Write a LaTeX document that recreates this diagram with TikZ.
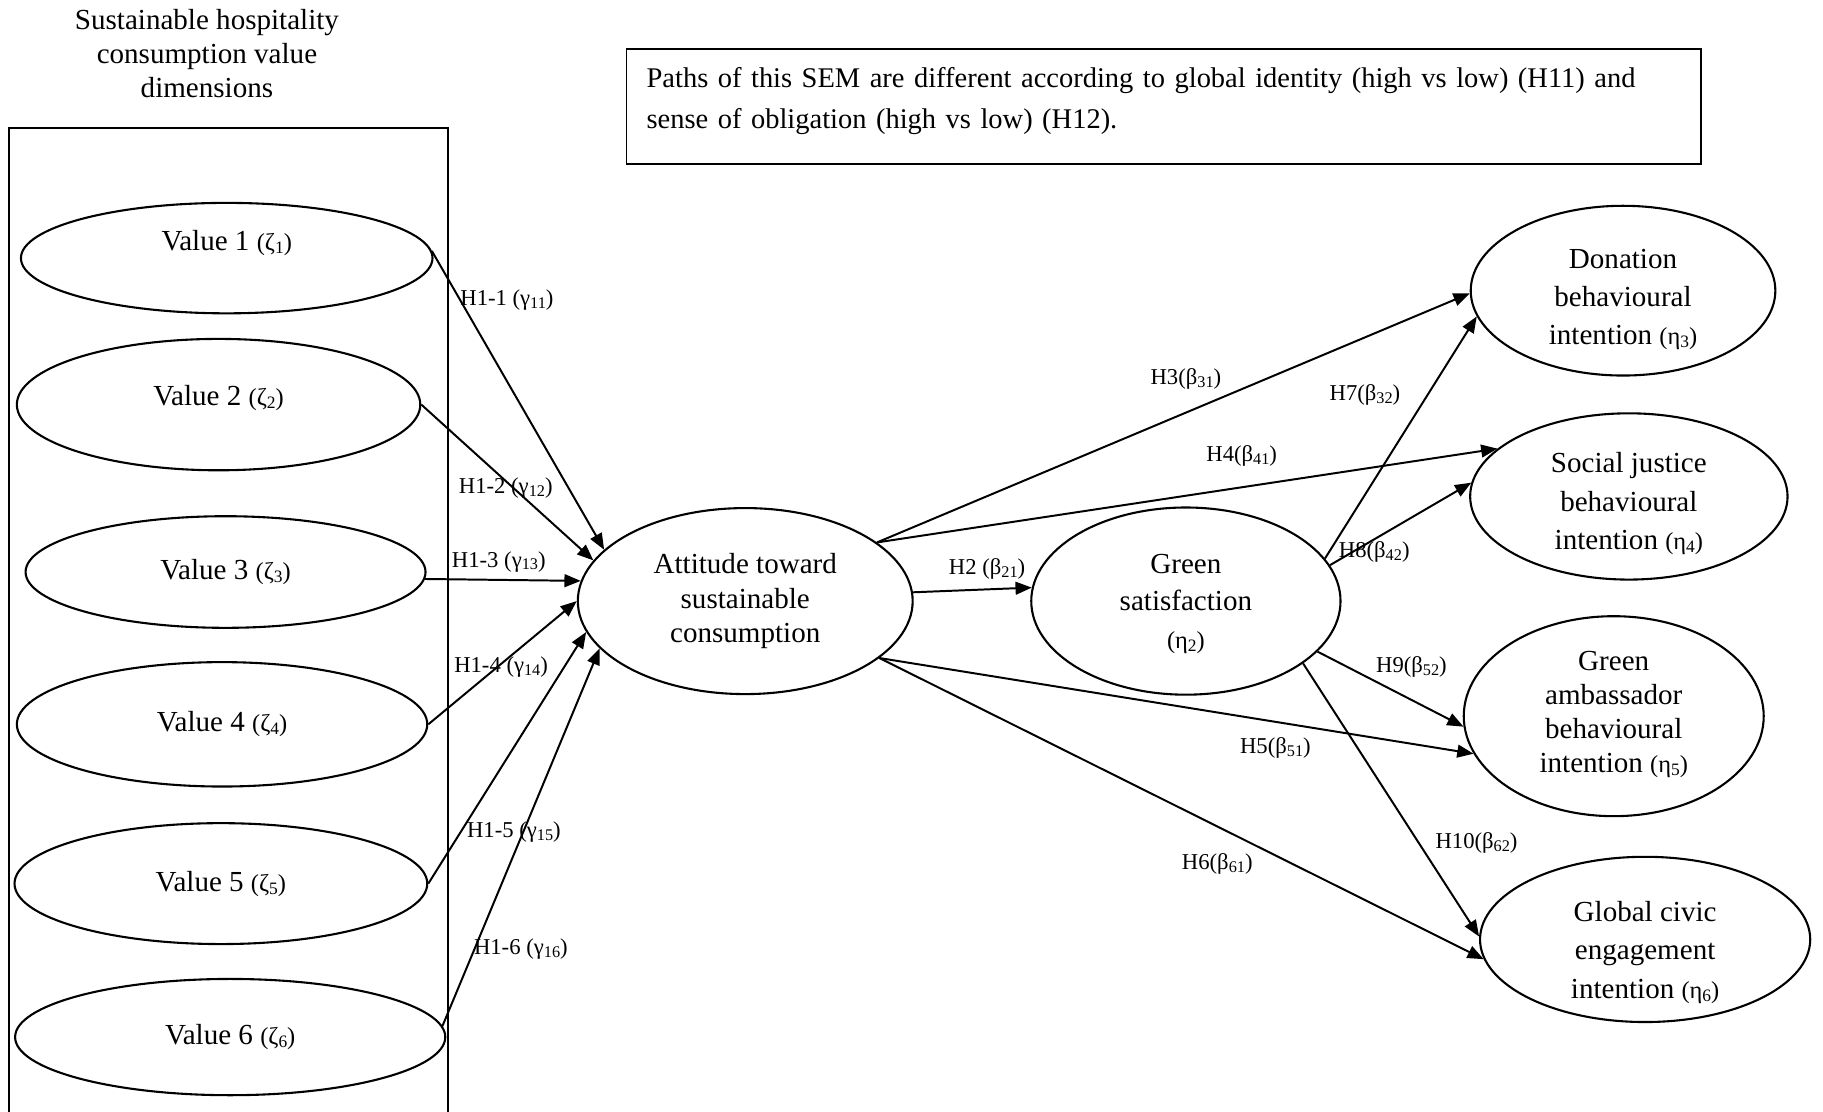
\documentclass[tikz,border=0pt]{standalone}
\usepackage{fontspec}
\setmainfont{Liberation Serif}
\usetikzlibrary{arrows.meta,shapes.geometric}
\newcommand{\lb}[1]{\raisebox{-2.5pt}{\fontsize{14}{14}\selectfont#1}}
\newcommand{\gs}[2]{{\fontsize{21}{21}\selectfont(#1\raisebox{-2.5pt}{\fontsize{15}{15}\selectfont#2})}}
\newcommand{\stk}[2]{\raisebox{#1}[\height][\depth]{\begin{tabular}{@{}c@{}}#2\end{tabular}}}
\newcommand{\shft}[2]{\raisebox{#1}[\height][\depth]{#2}}
\begin{document}
\begin{tikzpicture}[x=1pt,y=-1pt,
  every node/.style={font=\fontsize{25}{30}\selectfont},
  latent/.style={draw, ellipse, line width=1.8pt, inner sep=0pt, align=center},
  sem/.style={draw, line width=1.7pt, -{Triangle[length=14pt,width=11pt]}},
  hyp/.style={font=\fontsize{19.5}{21}\selectfont, inner sep=0pt}]
\useasboundingbox (0,0) rectangle (1568,956);

% title and value box
\node[align=center, font=\fontsize{25}{29}\selectfont] (title) at (178,46)
  {Sustainable hospitality\\consumption value\\dimensions};
\coordinate (bl) at (8,960);
\coordinate (br) at (385,960);
\draw[line width=1.8pt] (bl) -- (8,110) -- (385,110) -- (br);

% note
\node[anchor=north west, text width=890pt, align=left,
  inner xsep=17pt, inner ysep=16pt,
  font=\fontsize{24.5}{35}\selectfont] (note) at (539,42)
  {Paths of this SEM are different according to global identity (high vs low) (H11) and\\sense of obligation (high vs low) (H12).};
\draw[line width=1.4pt] (note.north west) rectangle ++(924,99);

% value ellipses
\node[latent, minimum width=354pt, minimum height=95pt] (v1) at (195,222) {\shft{13pt}{Value 1 \gs{ζ}{1}}};
\node[latent, minimum width=347pt, minimum height=113pt] (v2) at (188,348) {\shft{6pt}{Value 2 \gs{ζ}{2}}};
\node[latent, minimum width=344pt, minimum height=96pt] (v3) at (194,492) {Value 3 \gs{ζ}{3}};
\node[latent, minimum width=353pt, minimum height=107pt] (v4) at (191,623) {Value 4 \gs{ζ}{4}};
\node[latent, minimum width=355pt, minimum height=104pt] (v5) at (190,760) {Value 5 \gs{ζ}{5}};
\node[latent, minimum width=370pt, minimum height=100pt] (v6) at (198,892) {Value 6 \gs{ζ}{6}};

% constructs
\node[latent, minimum width=288pt, minimum height=160pt, font=\fontsize{25}{29.5}\selectfont] (att) at (641,517)
  {Attitude toward\\sustainable\\consumption};
\node[latent, minimum width=266pt, minimum height=161pt, font=\fontsize{25}{32.5}\selectfont] (gsat) at (1020,517)
  {\stk{-2pt}{Green\\satisfaction\\\gs{η}{2}}};
\node[latent, minimum width=262pt, minimum height=146pt, font=\fontsize{25}{33}\selectfont] (don) at (1396,250)
  {\stk{-7pt}{Donation\\behavioural\\intention \gs{η}{3}}};
\node[latent, minimum width=273pt, minimum height=143pt, font=\fontsize{25}{33}\selectfont] (soc) at (1401,427)
  {\stk{-6pt}{Social justice\\behavioural\\intention \gs{η}{4}}};
\node[latent, minimum width=258pt, minimum height=172pt, font=\fontsize{25}{29.3}\selectfont] (amb) at (1388,616)
  {\stk{1pt}{Green\\ambassador\\behavioural\\intention \gs{η}{5}}};
\node[latent, minimum width=284pt, minimum height=137pt, font=\fontsize{25}{33.5}\selectfont] (glob) at (1415,808)
  {\stk{-11pt}{Global civic\\engagement\\intention \gs{η}{6}}};

% H1 paths
\draw[sem] (v1.2) -- (att.160.5);
\draw[sem] (v2.east) -- (att.165.4);
\draw[sem] (v3.-2) -- (att.173.3);
\draw[sem] (v4.east) -- (att.180.4);
\draw[sem] (v5.east) -- (att.191.5);
\draw[sem] (v6.3) -- (att.198.6);

% other paths
\draw[sem] (att.3.6) -- (gsat.175.2);
\draw[sem] (att.24.1) -- (don.181.3);
\draw[sem] (att.24.1) -- (soc.160.5);
\draw[sem] (att.-23.7) -- (amb.195.1);
\draw[sem] (att.-23.7) -- (glob.187.2);
\draw[sem] (gsat.17.5) -- (don.190.1);
\draw[sem] (gsat.14) -- (soc.175.3);
\draw[sem] (gsat.-21.4) -- (amb.184.4);
\draw[sem] (gsat.-28.4) -- (glob.179.2);

% labels
\node[hyp] (l11) at (436,258) {H1-1 (γ\lb{11})};
\node[hyp] (l12) at (435,420) {H1-2 (γ\lb{12})};
\node[hyp] (l13) at (429,483) {H1-3 (γ\lb{13})};
\node[hyp] (l14) at (431,574) {H1-4 (γ\lb{14})};
\node[hyp] (l15) at (442,716) {H1-5 (γ\lb{15})};
\node[hyp] (l16) at (448,816) {H1-6 (γ\lb{16})};
\node[hyp] (l2) at (849,489) {H2 (β\lb{21})};
\node[hyp] (l3) at (1020,326) {H3(β\lb{31})};
\node[hyp] (l7) at (1174,340) {H7(β\lb{32})};
\node[hyp] (l4) at (1068,392) {H4(β\lb{41})};
\node[hyp] (l8) at (1182,475) {H8(β\lb{42})};
\node[hyp] (l9) at (1214,574) {H9(β\lb{52})};
\node[hyp] (l5) at (1097,643) {H5(β\lb{51})};
\node[hyp] (l10) at (1270,725) {H10(β\lb{62})};
\node[hyp] (l6) at (1047,743) {H6(β\lb{61})};
\end{tikzpicture}
\end{document}
